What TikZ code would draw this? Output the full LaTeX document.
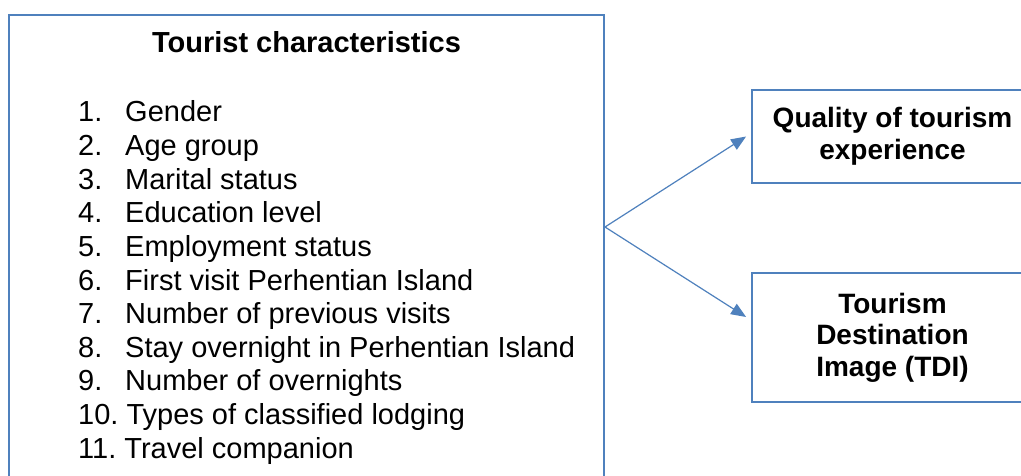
\documentclass[tikz,border=0pt]{standalone}
\usepackage{fontspec}
\setmainfont{Liberation Sans}
\usetikzlibrary{arrows.meta}
\definecolor{boxblue}{HTML}{4F81BD}
\tikzset{
  framebox/.style={draw=boxblue, line width=1.8pt, inner sep=0pt},
  bigfont/.style={font=\fontsize{29}{33.6}\selectfont},
  rfont/.style={font=\fontsize{28}{31.5}\selectfont\bfseries, align=center},
  item/.style={bigfont, anchor=base west, inner sep=0pt},
  link/.style={draw=boxblue, line width=1.2pt, -{Triangle[length=15pt,width=12pt]}}
}
\begin{document}
\begin{tikzpicture}[x=1pt,y=-1pt]
\useasboundingbox (0,0) rectangle (1021,476);
\clip (0,0) rectangle (1021,476);
\fill[white] (0,0) rectangle (1021,476);
% boxes
\node[framebox, minimum width=595pt, minimum height=495pt] (tc) at (306.5,262.5) {};
\node[framebox, rfont, minimum width=281pt, minimum height=93pt] (q) at (892.5,136.5) {Quality of tourism\\experience};
\node[framebox, rfont, minimum width=281pt, minimum height=129pt] (tdi) at (892.5,337.5) {Tourism\\Destination\\Image (TDI)};
% title
\node[bigfont, font=\fontsize{29}{33.6}\selectfont\bfseries, anchor=base, inner sep=0pt] (title) at (306.5,53) {Tourist characteristics};
% list
\foreach \i/\t in {1/Gender,2/Age group,3/Marital status,4/Education level,5/Employment status,6/First visit Perhentian Island,7/Number of previous visits,8/Stay overnight in Perhentian Island,9/Number of overnights}{
  \node[item] (n\i) at (78,{122+33.6*(\i-1)}) {\i.};
  \node[item] (t\i) at (125,{122+33.6*(\i-1)}) {\t};
}
\foreach \i/\t in {10/Types of classified lodging,11/Travel companion}{
  \node[item] (t\i) at (78,{122+33.6*(\i-1)}) {\i.\ \t};
}
% connectors
\coordinate (src) at (605,227);
\draw[link] (src) -- ([xshift=-5pt]q.west);
\draw[link] (src) -- ([xshift=-5pt,yshift=20.5pt]tdi.west);
\end{tikzpicture}
\end{document}
